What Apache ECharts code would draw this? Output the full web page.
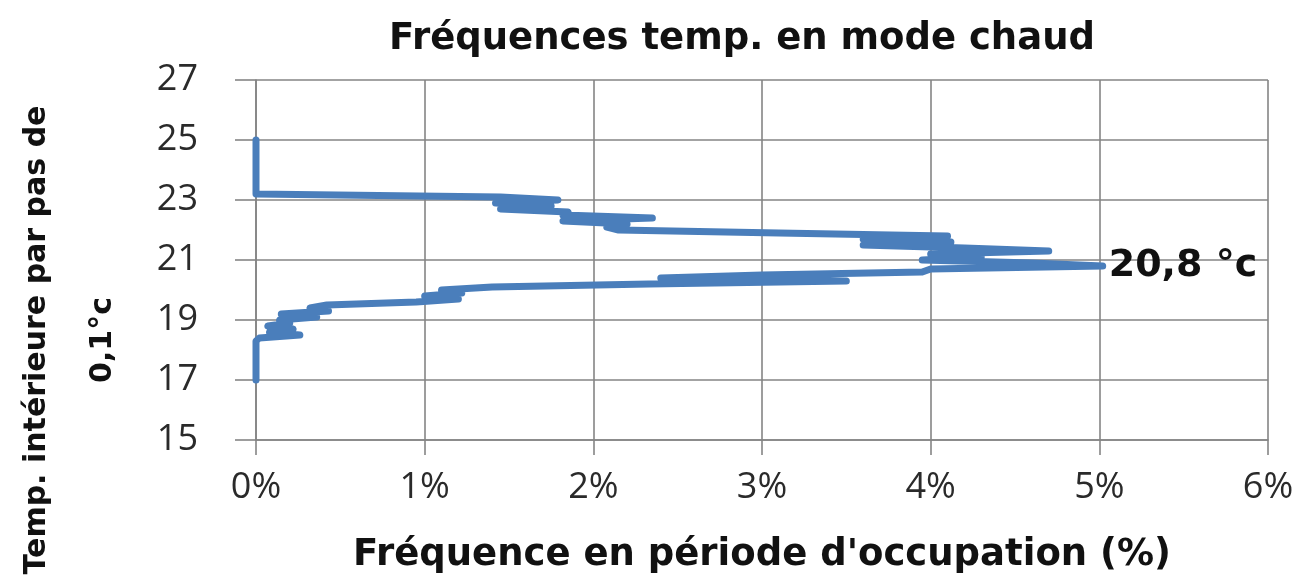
<!DOCTYPE html>
<html>
<head>
<meta charset="utf-8">
<script src="https://cdn.jsdelivr.net/npm/echarts@6/dist/echarts.min.js"></script>
<style>
html,body{margin:0;padding:0;background:#ffffff;}
#chart{width:1303px;height:578px;}
</style>
</head>
<body>
<div id="chart"></div>
<script>
// ---- texts ----
const titleText = 'Fréquences temp. en mode chaud';
const xAxisTitle = "Fréquence en période d'occupation (%)";
const yAxisTitle = 'Temp. intérieure par pas de\n0,1°c';

// ---- tick values ----
const xTicks = [0, 1, 2, 3, 4, 5, 6];          // percent
const yTicks = [15, 17, 19, 21, 23, 25, 27];   // °C

// ---- series: temperature (0.1 °C steps) and frequency (%) ----
const temps = [
  17.0, 17.1, 17.2, 17.3, 17.4, 17.5, 17.6, 17.7, 17.8, 17.9,
  18.0, 18.1, 18.2, 18.3, 18.4, 18.5, 18.6, 18.7, 18.8, 18.9,
  19.0, 19.1, 19.2, 19.3, 19.4, 19.5, 19.6, 19.7, 19.8, 19.9,
  20.0, 20.1, 20.2, 20.3, 20.4, 20.5, 20.6, 20.7, 20.8, 20.9,
  21.0, 21.1, 21.2, 21.3, 21.4, 21.5, 21.6, 21.7, 21.8, 21.9,
  22.0, 22.1, 22.2, 22.3, 22.4, 22.5, 22.6, 22.7, 22.8, 22.9,
  23.0, 23.1, 23.2, 23.3, 23.4, 23.5, 23.6, 23.7, 23.8, 23.9,
  24.0, 24.1, 24.2, 24.3, 24.4, 24.5, 24.6, 24.7, 24.8, 24.9,
  25.0
];
const freqs = [
  0, 0, 0, 0, 0, 0, 0, 0, 0, 0,
  0, 0, 0, 0, 0.02, 0.26, 0.08, 0.22, 0.07, 0.20,
  0.14, 0.36, 0.15, 0.43, 0.32, 0.42, 0.95, 1.20, 1.00, 1.22,
  1.10, 1.40, 2.33, 3.50, 2.40, 3.00, 3.95, 4.00, 5.02, 4.60,
  3.95, 4.30, 4.00, 4.70, 4.20, 3.60, 4.12, 3.60, 4.10, 3.10,
  2.15, 2.08, 2.20, 1.82, 2.35, 1.82, 1.85, 1.45, 1.75, 1.42,
  1.79, 1.45, 0, 0, 0, 0, 0, 0, 0, 0,
  0, 0, 0, 0, 0, 0, 0, 0, 0, 0,
  0
];
const peakTemp = 20.8;
const peakLabel = '20,8 °c';

const gridColor = '#858585';
const lineColor = '#4a7ebb';

const data = temps.map(function (t, i) {
  const item = { value: [freqs[i], t] };
  if (t === peakTemp) {
    item.label = {
      show: true,
      position: 'right',
      distance: 6,
      formatter: peakLabel,
      fontFamily: 'DejaVu Sans',
      fontWeight: 'bold',
      fontSize: 38,
      color: '#111111'
    };
  }
  return item;
});

const chart = echarts.init(document.getElementById('chart'), null, { renderer: 'canvas' });
chart.setOption({
  animation: false,
  backgroundColor: '#ffffff',
  title: {
    text: titleText,
    left: 737,
    top: 16,
    textAlign: 'center',
    textStyle: {
      fontFamily: 'DejaVu Sans',
      fontWeight: 'bold',
      fontSize: 37,
      color: '#111111'
    }
  },
  grid: { left: 256, right: 35, top: 80, bottom: 138, containLabel: false, outerBoundsMode: 'none' },
  xAxis: {
    type: 'value',
    min: xTicks[0],
    max: xTicks[xTicks.length - 1],
    interval: xTicks[1] - xTicks[0],
    name: xAxisTitle,
    nameLocation: 'middle',
    nameGap: 97,
    nameTextStyle: {
      fontFamily: 'DejaVu Sans',
      fontWeight: 'bold',
      fontSize: 37,
      color: '#111111'
    },
    axisLine: { show: true, lineStyle: { color: gridColor, width: 1.6 } },
    axisTick: { show: true, length: 15, lineStyle: { color: gridColor, width: 1.6 } },
    splitLine: { show: true, lineStyle: { color: gridColor, width: 1.6 } },
    axisLabel: {
      margin: 30,
      formatter: '{value}%',
      fontFamily: 'Open Sans',
      fontSize: 36,
      color: '#2a2a2a'
    }
  },
  yAxis: {
    type: 'value',
    min: yTicks[0],
    max: yTicks[yTicks.length - 1],
    interval: yTicks[1] - yTicks[0],
    name: yAxisTitle,
    nameLocation: 'middle',
    nameRotate: 90,
    nameGap: 120,
    nameTextStyle: {
      fontFamily: 'DejaVu Sans',
      fontWeight: 'bold',
      fontSize: 30,
      lineHeight: 66,
      color: '#111111',
      padding: [0, 160, 0, 0]
    },
    axisLine: { show: true, lineStyle: { color: gridColor, width: 1.6 } },
    axisTick: { show: true, length: 21, lineStyle: { color: gridColor, width: 1.6 } },
    splitLine: { show: true, lineStyle: { color: gridColor, width: 1.6 } },
    axisLabel: {
      margin: 58,
      fontFamily: 'Open Sans',
      fontSize: 36,
      color: '#2a2a2a'
    }
  },
  series: [{
    type: 'line',
    data: data,
    showSymbol: true,
    symbol: 'circle',
    symbolSize: 0,
    smooth: false,
    lineStyle: { color: lineColor, width: 7, cap: 'round', join: 'round' },
    itemStyle: { color: lineColor },
    label: { show: false },
    emphasis: { disabled: true },
    z: 3
  }]
});
</script>
</body>
</html>
